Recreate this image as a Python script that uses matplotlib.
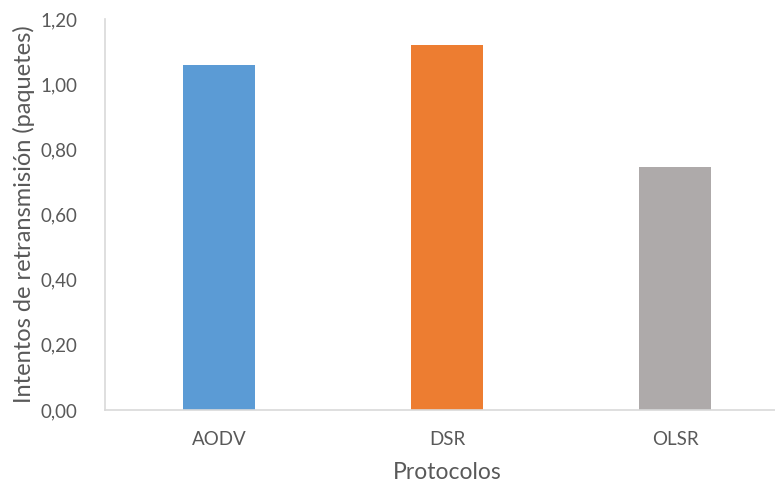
import matplotlib.pyplot as plt
from matplotlib.ticker import FuncFormatter

protocolos = ['AODV', 'DSR', 'OLSR']
intentos = [1.06, 1.12, 0.746]
colores = ['#5B9BD5', '#ED7D31', '#AEAAAA']

plt.rcParams['font.family'] = ['Lato', 'DejaVu Sans']
texto = '#595959'

fig = plt.figure(figsize=(7.75, 4.87), dpi=100)
ax = fig.add_axes([105 / 775, 1 - 410 / 487, 684 / 775, 391 / 487])

ax.bar(range(len(protocolos)), intentos, width=0.316, color=colores)

ax.set_xlim(-0.5, 2.5)
ax.set_ylim(0, 1.2)
ax.set_yticks([0, 0.2, 0.4, 0.6, 0.8, 1.0, 1.2])
ax.yaxis.set_major_formatter(FuncFormatter(lambda v, p: f'{v:.2f}'.replace('.', ',')))
ax.set_xticks(range(len(protocolos)))
ax.set_xticklabels(protocolos)

for lado in ['top', 'right']:
    ax.spines[lado].set_visible(False)
for lado in ['left', 'bottom']:
    ax.spines[lado].set_color('#D9D9D9')
    ax.spines[lado].set_linewidth(1.2)

ax.tick_params(axis='both', length=0, labelsize=13.5, colors=texto)
ax.tick_params(axis='y', pad=20)
ax.tick_params(axis='x', pad=15)

ax.set_xlabel('Protocolos', fontsize=16.5, color=texto, labelpad=10)
ax.set_ylabel('Intentos de retransmisión (paquetes)', fontsize=17, color=texto, labelpad=4)

fig.savefig('out.png', dpi=100)
